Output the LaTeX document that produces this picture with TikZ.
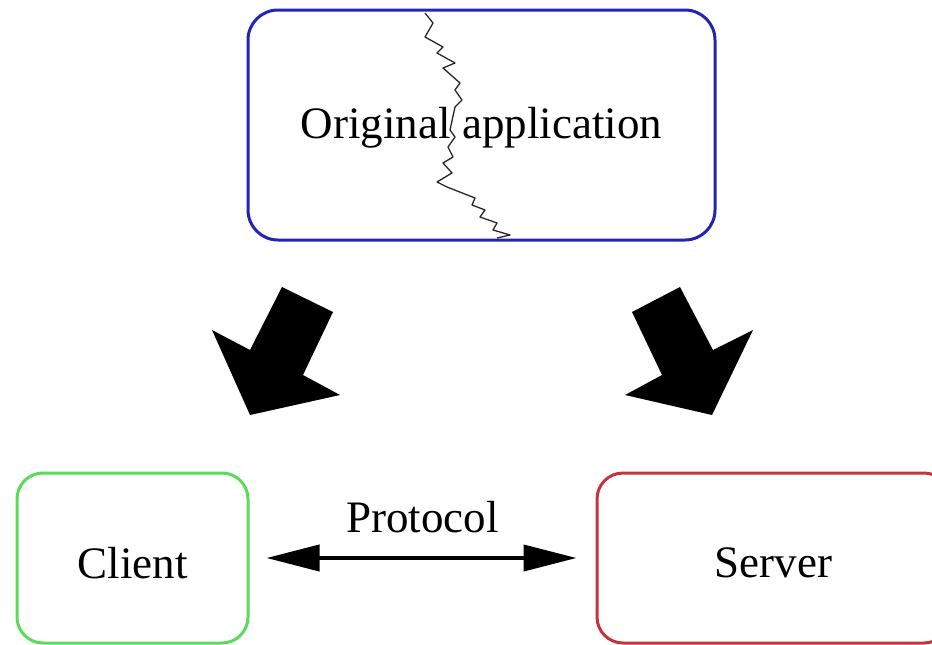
\documentclass[tikz,border=0pt]{standalone}
\usepackage{fontspec}
\setmainfont{Liberation Serif}
\usetikzlibrary{arrows.meta}
\definecolor{appblue}{RGB}{35,35,180}
\definecolor{clientgreen}{RGB}{90,220,90}
\definecolor{serverred}{RGB}{200,50,60}
\tikzset{
  partbox/.style = {draw, line width=3pt, rounded corners=26pt, inner sep=0pt,
    font=\fontsize{45}{54}\selectfont},
  bigarrow/.style = {fill=black},
  protoarrow/.style = {line width=4pt, {Triangle[length=53pt,width=26pt]}-{Triangle[length=53pt,width=26pt]}}
}
\begin{document}
\begin{tikzpicture}[x=1pt, y=-1pt]
\useasboundingbox (0,0) rectangle (932,645);
\node[partbox, draw=appblue, rounded corners=30pt, minimum width=467pt, minimum height=230pt,
  text height=36pt, text depth=10pt] (orig) at (481.5,125) {Original application};
\node[partbox, draw=clientgreen, minimum width=231pt, minimum height=170pt,
  text height=40pt, text depth=0pt] (client) at (132.5,558) {Client};
\node[partbox, draw=serverred, minimum width=353pt, minimum height=170pt,
  text height=39pt, text depth=0pt] (server) at (773.5,558) {Server};
% split line through the application
\draw[black!85, line width=1.3pt, line join=round] (425,13) -- (433,23) -- (425,37) -- (443,47) -- (437,53) -- (455,63) -- (443,68) -- (460,83) -- (455,90) -- (462,100) -- (455,107) -- (450,130) -- (455,137) -- (448,147) -- (453,157) -- (443,163) -- (452,173) -- (437,182) -- (447,187) -- (475,198) -- (472,205) -- (485,210) -- (480,217) -- (497,223) -- (493,230) -- (510,235) -- (497,238);
% the two big arrows
\fill[bigarrow] (282,287) -- (333,312) -- (303,375) -- (340,395) -- (250,415) -- (212,330) -- (250,350) -- cycle;
\fill[bigarrow] (680,287) -- (632,312) -- (662,375) -- (625,395) -- (712,415) -- (753,330) -- (713,350) -- cycle;
% protocol between the two parts
\draw[protoarrow, shorten <=17pt, shorten >=19pt] (client.east) -- (server.west)
  node[midway, above=23pt, inner sep=0pt, font=\fontsize{45}{54}\selectfont] (proto) {Protocol};
\end{tikzpicture}
\end{document}
